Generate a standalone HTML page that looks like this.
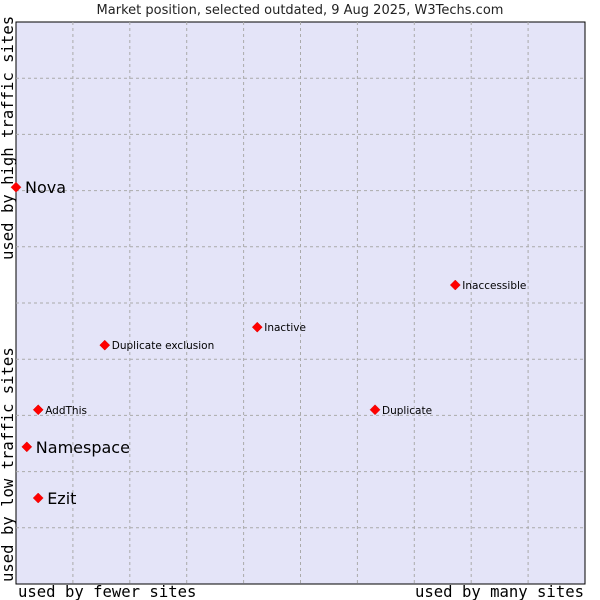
<!DOCTYPE html>
<html><head><meta charset="utf-8"><style>
html,body{margin:0;padding:0;background:#fff;width:600px;height:600px;overflow:hidden}
svg text{font-family:"DejaVu Sans","Liberation Sans",sans-serif}
</style></head><body>
<svg width="600" height="600" xmlns="http://www.w3.org/2000/svg">
<text x="300" y="14" text-anchor="middle" font-size="13" fill="#222">Market position, selected outdated, 9 Aug 2025, W3Techs.com</text>
<rect x="16" y="22" width="569" height="562" fill="#e4e4f8" stroke="#000" stroke-width="1"/>
<g id="grid"></g>
<g id="points"></g>
<text x="18" y="597" font-size="15.6" fill="#000" style="font-family:'DejaVu Sans Mono',monospace">used by fewer sites</text>
<text x="584" y="597" text-anchor="end" font-size="15.6" fill="#000" style="font-family:'DejaVu Sans Mono',monospace">used by many sites</text>
<text transform="translate(13,582) rotate(-90)" font-size="15.6" fill="#000" style="font-family:'DejaVu Sans Mono',monospace">used by low traffic sites</text>
<text transform="translate(13,260) rotate(-90)" font-size="15.6" fill="#000" style="font-family:'DejaVu Sans Mono',monospace">used by high traffic sites</text>
</svg>
<script>
const names=["Nova","Inaccessible","Inactive","Duplicate exclusion","AddThis","Duplicate","Namespace","Ezit"];
const xVals=[0,77.2,42.4,15.6,3.9,63.1,1.9,3.9];
const yVals=[70.6,53.2,45.7,42.5,31.0,31.0,24.4,15.3];
const bigLabels=[true,false,false,false,false,false,true,true];
const L=16,T=22,W=569,H=562;
const sx=v=>L+v/100*W, sy=v=>T+H-v/100*H;
const NS="http://www.w3.org/2000/svg";
const g=document.getElementById('grid');
for(let i=1;i<10;i++){
  const v=document.createElementNS(NS,'line');
  
  
  const x=sx(i*10);v.setAttribute('x1',x);v.setAttribute('x2',x);v.setAttribute('y1',T);v.setAttribute('y2',T+H);
  v.setAttribute('stroke','#aaa');v.setAttribute('stroke-dasharray','3,3');g.appendChild(v);
  const h=document.createElementNS(NS,'line');
  
  
  const y=sy(i*10);h.setAttribute('y1',y);h.setAttribute('y2',y);h.setAttribute('x1',L);h.setAttribute('x2',L+W);
  h.setAttribute('stroke','#aaa');h.setAttribute('stroke-dasharray','3,3');g.appendChild(h);
}
const p=document.getElementById('points');
names.forEach((n,i)=>{
  const x=sx(xVals[i]),y=sy(yVals[i]);
  const d=document.createElementNS(NS,'path');
  
  
  d.setAttribute('d',`M${x-5},${y}L${x},${y-5}L${x+5},${y}L${x},${y+5}Z`);
  d.setAttribute('fill','#f00');d.setAttribute('stroke','#d00');d.setAttribute('stroke-width','0.5');d.setAttribute('stroke-linejoin','round');p.appendChild(d);
  const t=document.createElementNS(NS,'text');
  
  
  t.setAttribute('x',x+(bigLabels[i]?9:7));t.setAttribute('y',y+(bigLabels[i]?6:4));
  t.setAttribute('font-size',bigLabels[i]?16:10.5);t.setAttribute('fill','#000');
  t.textContent=n;p.appendChild(t);
});
</script>
</body></html>
